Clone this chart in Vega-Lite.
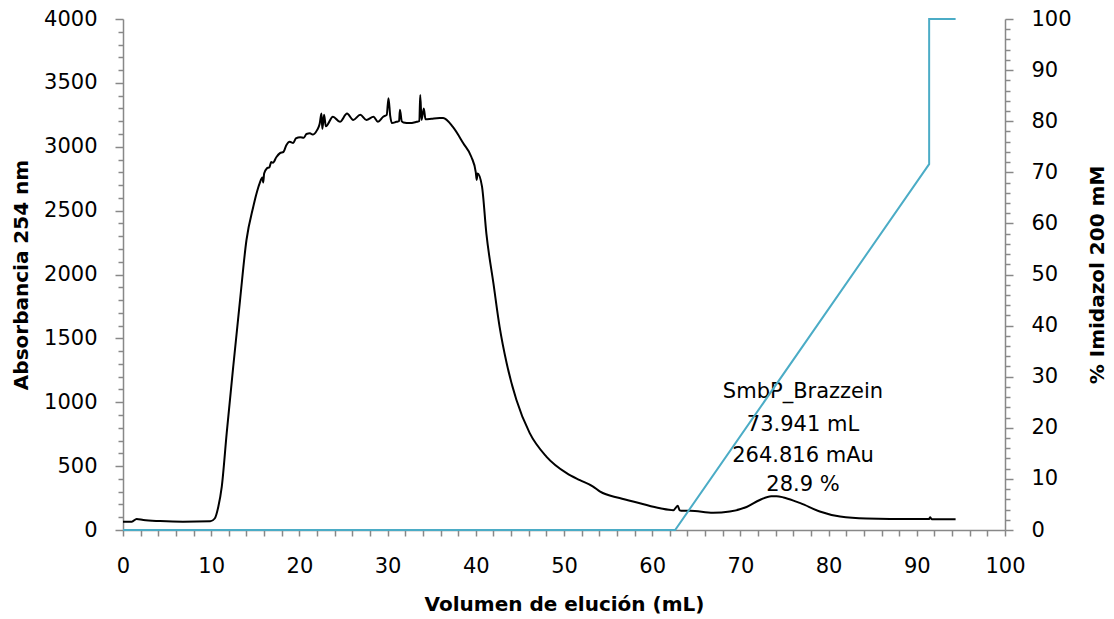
{
  "$schema": "https://vega.github.io/schema/vega-lite/v6.json",
  "width": 882,
  "height": 511,
  "autosize": {"type": "none"},
  "padding": {"left": 123, "top": 19, "right": 109, "bottom": 89},
  "background": "white",
  "config": {
    "view": {"stroke": null},
    "font": "DejaVu Sans",
    "axis": {
      "grid": false,
      "domainColor": "#888888",
      "tickColor": "#888888",
      "domainWidth": 1.5,
      "tickWidth": 1.5,
      "labelFont": "DejaVu Sans",
      "labelFontSize": 21,
      "labelColor": "black",
      "titleFont": "DejaVu Sans",
      "titleFontSize": 20,
      "titleFontWeight": "bold",
      "titleColor": "black",
      "labelOverlap": false,
      "labelFlush": false
    }
  },
  "datasets": {
    "abs": [
      {"x": 0, "a": 65}, {"x": 1, "a": 65}, {"x": 1.55, "a": 86}, {"x": 2.3, "a": 78},
      {"x": 4.2, "a": 70}, {"x": 6.8, "a": 65}, {"x": 9.9, "a": 68}, {"x": 10.4, "a": 90},
      {"x": 10.8, "a": 180}, {"x": 11.2, "a": 340}, {"x": 11.76, "a": 760}, {"x": 12.5, "a": 1280},
      {"x": 13.27, "a": 1800}, {"x": 14.0, "a": 2270}, {"x": 14.77, "a": 2530}, {"x": 15.2, "a": 2650},
      {"x": 15.5, "a": 2715}, {"x": 15.8, "a": 2760}, {"x": 15.9, "a": 2720}, {"x": 16.0, "a": 2790},
      {"x": 16.3, "a": 2830}, {"x": 16.6, "a": 2840}, {"x": 16.8, "a": 2880}, {"x": 17.0, "a": 2875},
      {"x": 17.4, "a": 2920}, {"x": 17.8, "a": 2950}, {"x": 18.2, "a": 2960}, {"x": 18.5, "a": 3010},
      {"x": 18.9, "a": 3040}, {"x": 19.3, "a": 3030}, {"x": 19.6, "a": 3065}, {"x": 20.1, "a": 3075},
      {"x": 20.5, "a": 3070}, {"x": 20.8, "a": 3100}, {"x": 21.2, "a": 3105}, {"x": 21.5, "a": 3095},
      {"x": 22.0, "a": 3130}, {"x": 22.3, "a": 3180}, {"x": 22.5, "a": 3260}, {"x": 22.6, "a": 3140},
      {"x": 22.8, "a": 3250}, {"x": 23.0, "a": 3160}, {"x": 23.8, "a": 3235}, {"x": 24.6, "a": 3195},
      {"x": 25.4, "a": 3260}, {"x": 26.1, "a": 3210}, {"x": 26.9, "a": 3250}, {"x": 27.6, "a": 3210},
      {"x": 28.4, "a": 3235}, {"x": 28.9, "a": 3195}, {"x": 29.5, "a": 3235}, {"x": 29.9, "a": 3250},
      {"x": 30.1, "a": 3380}, {"x": 30.3, "a": 3240}, {"x": 30.5, "a": 3185}, {"x": 31.0, "a": 3195},
      {"x": 31.3, "a": 3200}, {"x": 31.4, "a": 3290}, {"x": 31.6, "a": 3200}, {"x": 31.8, "a": 3190},
      {"x": 32.5, "a": 3185}, {"x": 33.3, "a": 3195}, {"x": 33.6, "a": 3200}, {"x": 33.7, "a": 3405},
      {"x": 33.85, "a": 3210}, {"x": 34.1, "a": 3300}, {"x": 34.3, "a": 3215}, {"x": 35.0, "a": 3220},
      {"x": 35.9, "a": 3225}, {"x": 36.3, "a": 3225}, {"x": 37.4, "a": 3155}, {"x": 38.6, "a": 3025},
      {"x": 39.5, "a": 2920}, {"x": 40.0, "a": 2800}, {"x": 40.1, "a": 2740}, {"x": 40.2, "a": 2790},
      {"x": 40.7, "a": 2690}, {"x": 41.2, "a": 2320}, {"x": 42.0, "a": 1930}, {"x": 42.7, "a": 1590},
      {"x": 43.5, "a": 1305}, {"x": 44.6, "a": 1020}, {"x": 46.1, "a": 760}, {"x": 48.0, "a": 575},
      {"x": 50.3, "a": 445}, {"x": 51.8, "a": 390}, {"x": 53.3, "a": 340}, {"x": 54.1, "a": 300},
      {"x": 56.3, "a": 250}, {"x": 58.6, "a": 210}, {"x": 60.9, "a": 170}, {"x": 62.4, "a": 155},
      {"x": 62.9, "a": 190}, {"x": 63.1, "a": 155}, {"x": 63.3, "a": 150}, {"x": 64.3, "a": 150},
      {"x": 66.9, "a": 135}, {"x": 68.8, "a": 145}, {"x": 70.7, "a": 180}, {"x": 72.2, "a": 235},
      {"x": 73.5, "a": 265}, {"x": 74.1, "a": 265}, {"x": 74.9, "a": 255}, {"x": 76.4, "a": 220},
      {"x": 76.8, "a": 210}, {"x": 79.0, "a": 145}, {"x": 81.3, "a": 105}, {"x": 84.3, "a": 90},
      {"x": 89.6, "a": 86}, {"x": 91.4, "a": 86}, {"x": 91.5, "a": 100}, {"x": 91.7, "a": 85},
      {"x": 92.3, "a": 84}, {"x": 94.4, "a": 84}
    ],
    "grad": [
      {"i": 0, "x": 0, "p": 0},
      {"i": 1, "x": 62.6, "p": 0},
      {"i": 2, "x": 91.4, "p": 71.6},
      {"i": 3, "x": 91.4, "p": 100},
      {"i": 4, "x": 94.4, "p": 100}
    ],
    "ann": [
      {"x": 77.1, "a": 1083, "label": "SmbP_Brazzein"},
      {"x": 77.1, "a": 822, "label": "73.941 mL"},
      {"x": 77.1, "a": 579, "label": "264.816 mAu"},
      {"x": 77.1, "a": 352, "label": "28.9 %"}
    ]
  },
  "encoding": {
    "x": {
      "field": "x", "type": "quantitative",
      "scale": {"domain": [0, 100], "nice": false},
      "axis": {
        "title": "Volumen de elución (mL)",
        "values": [0,2,4,6,8,10,12,14,16,18,20,22,24,26,28,30,32,34,36,38,40,42,44,46,48,50,52,54,56,58,60,62,64,66,68,70,72,74,76,78,80,82,84,86,88,90,92,94,96,98,100],
        "labelExpr": "datum.value % 10 === 0 ? datum.label : ''",
        "tickSize": 6,
        "labelPadding": 19,
        "titlePadding": 18
      }
    }
  },
  "layer": [
    {
      "data": {"name": "abs"},
      "mark": {"type": "line", "color": "black", "strokeWidth": 2, "interpolate": "monotone"},
      "encoding": {
        "y": {
          "field": "a", "type": "quantitative",
          "scale": {"domain": [0, 4000], "nice": false},
          "axis": {
            "title": "Absorbancia 254 nm",
            "values": [0,100,200,300,400,500,600,700,800,900,1000,1100,1200,1300,1400,1500,1600,1700,1800,1900,2000,2100,2200,2300,2400,2500,2600,2700,2800,2900,3000,3100,3200,3300,3400,3500,3600,3700,3800,3900,4000],
            "labelExpr": "datum.value % 500 === 0 ? datum.label : ''",
            "format": "d",
            "tickSize": {"condition": {"test": "datum.value % 500 === 0", "value": 8}, "value": 5},
            "labelPadding": 18,
            "titlePadding": 12
          }
        }
      }
    },
    {
      "data": {"name": "ann"},
      "mark": {"type": "text", "fontSize": 21, "font": "DejaVu Sans", "color": "black", "align": "center", "baseline": "middle"},
      "encoding": {
        "y": {"field": "a", "type": "quantitative", "scale": {"domain": [0, 4000], "nice": false}, "axis": null},
        "text": {"field": "label"}
      }
    },
    {
      "data": {"name": "grad"},
      "mark": {"type": "line", "color": "#4BACC6", "strokeWidth": 2},
      "encoding": {
        "y": {
          "field": "p", "type": "quantitative",
          "scale": {"domain": [0, 100], "nice": false},
          "axis": {
            "orient": "right",
            "title": "% Imidazol 200 mM",
            "titleAngle": 270,
            "values": [0,2,4,6,8,10,12,14,16,18,20,22,24,26,28,30,32,34,36,38,40,42,44,46,48,50,52,54,56,58,60,62,64,66,68,70,72,74,76,78,80,82,84,86,88,90,92,94,96,98,100],
            "labelExpr": "datum.value % 10 === 0 ? datum.label : ''",
            "tickSize": {"condition": {"test": "datum.value % 10 === 0", "value": 8}, "value": 5},
            "labelPadding": 18,
            "titlePadding": 36
          }
        },
        "order": {"field": "i"}
      }
    }
  ],
  "resolve": {"scale": {"y": "independent"}}
}
